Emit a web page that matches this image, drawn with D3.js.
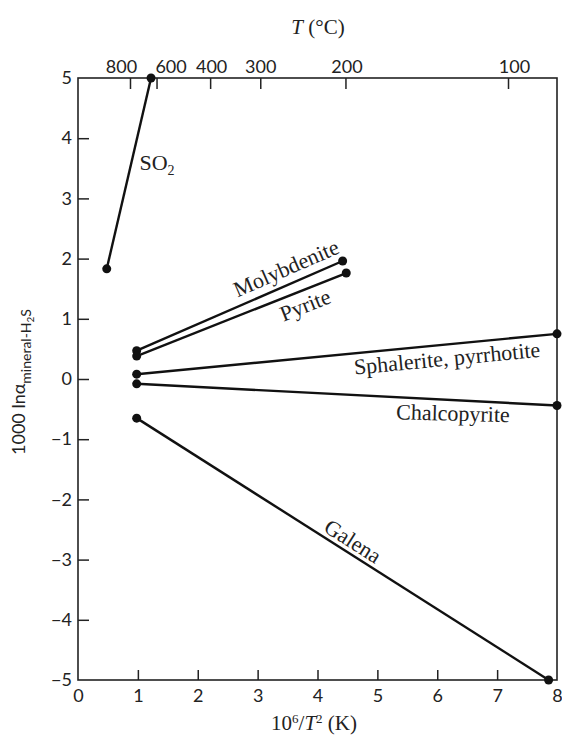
<!DOCTYPE html>
<html><head><meta charset="utf-8">
<script src="https://cdn.jsdelivr.net/npm/d3@7"></script>
<style>body{margin:0;background:#fff}svg text{fill:#222}</style>
</head><body>
<svg id="c" width="562" height="740"></svg>
<script>
// Data
const xTicks = [0,1,2,3,4,5,6,7,8];
const yTicks = [-5,-4,-3,-2,-1,0,1,2,3,4,5];
const topTicksC = [800,600,400,300,200,100];
const seriesNames = ["SO₂","Molybdenite","Pyrite","Sphalerite, pyrrhotite","Chalcopyrite","Galena"];
const seriesX0 = [0.48, 0.98, 0.98, 0.98, 0.98, 0.98];
const seriesY0 = [1.83, 0.47, 0.38, 0.08, -0.08, -0.65];
const seriesX1 = [1.22, 4.42, 4.48, 8.0, 8.0, 7.86];
const seriesY1 = [5.0, 1.96, 1.76, 0.75, -0.44, -5.0];

const svg = d3.select("#c");
const L = 78, R = 557, T = 78, B = 680;
const x = d3.scaleLinear().domain([0,8]).range([L,R]);
const y = d3.scaleLinear().domain([-5,5]).range([B,T]);
const toX = c => 1e6/Math.pow(c+273.15,2);

const tickFont = "Lato, 'Open Sans', sans-serif";
const serif = "'Liberation Serif', 'DejaVu Serif', serif";

// frame
svg.append("rect").attr("x",L).attr("y",T).attr("width",R-L).attr("height",B-T)
  .attr("fill","none").attr("stroke","#222").attr("stroke-width",1.6);

// bottom axis
const bx = svg.append("g").attr("transform",`translate(0,${B})`)
  .call(d3.axisBottom(x).tickValues(xTicks).tickSize(-10).tickPadding(18).tickFormat(d3.format("d")));
bx.select(".domain").remove();
bx.selectAll(".tick line").attr("stroke","#222").attr("stroke-width",1.5)
  .attr("display",d=> (d===0||d===8)?"none":null);
bx.selectAll(".tick text").attr("font-family",tickFont).attr("font-size",18).attr("fill","#222").attr("dy","0.2em");

// left axis
const ly = svg.append("g").attr("transform",`translate(${L},0)`)
  .call(d3.axisLeft(y).tickValues(yTicks).tickSize(-11).tickPadding(6).tickFormat(d=> d<0 ? "\u2212"+Math.abs(d) : d));
ly.select(".domain").remove();
ly.selectAll(".tick line").attr("stroke","#222").attr("stroke-width",1.5)
  .attr("display",d=> (d===5||d===-5)?"none":null);
ly.selectAll(".tick text").attr("font-family",tickFont).attr("font-size",18).attr("fill","#222");

// top axis (temperature)
const topLabelShift = [-9, 14, 1, 0, 1, 6];
const tx = svg.append("g").attr("transform",`translate(0,${T})`)
  .call(d3.axisTop(x).tickValues(topTicksC.map(toX)).tickSize(-11).tickPadding(5)
    .tickFormat((d,i)=>topTicksC[i]));
tx.select(".domain").remove();
tx.selectAll(".tick line").attr("stroke","#222").attr("stroke-width",1.5);
tx.selectAll(".tick text").attr("font-family",tickFont).attr("font-size",18).attr("fill","#222")
  .attr("dx",(d,i)=>topLabelShift[i]);

// axis titles
svg.append("text").attr("x",318).attr("y",34).attr("text-anchor","middle")
  .attr("font-family",serif).attr("font-size",21)
  .html('<tspan font-style="italic">T</tspan> (°C)');
svg.append("text").attr("x",314).attr("y",730).attr("text-anchor","middle")
  .attr("font-family",serif).attr("font-size",21)
  .html('10<tspan dy="-7" font-size="13">6</tspan><tspan dy="7">/</tspan><tspan font-style="italic">T</tspan><tspan dy="-7" font-size="13">2</tspan><tspan dy="7"> (K)</tspan>');
svg.append("text").attr("transform","translate(25,382) rotate(-90)").attr("text-anchor","middle")
  .attr("font-family","Lato, sans-serif").attr("font-size",18)
  .html('1000 lnα<tspan dy="6" font-size="14">mineral-H</tspan><tspan dy="3" font-size="10">2</tspan><tspan dy="-3" font-size="14">S</tspan>');

// lines & points
const idx = d3.range(seriesNames.length);
svg.append("g").selectAll("line").data(idx).join("line")
  .attr("x1",i=>x(seriesX0[i])).attr("y1",i=>y(seriesY0[i]))
  .attr("x2",i=>x(seriesX1[i])).attr("y2",i=>y(seriesY1[i]))
  .attr("stroke","#111").attr("stroke-width",2.4);
const pts = idx.flatMap(i=>[[seriesX0[i],seriesY0[i]],[seriesX1[i],seriesY1[i]]]);
svg.append("g").selectAll("circle").data(pts).join("circle")
  .attr("cx",d=>x(d[0])).attr("cy",d=>y(d[1])).attr("r",4.5).attr("fill","#111");

// labels (centre positions)
function angle(i){
  return Math.atan2(y(seriesY1[i])-y(seriesY0[i]), x(seriesX1[i])-x(seriesX0[i]))*180/Math.PI;
}
const lab = [
  {i:0, px:157, py:162, rot:0, html:'SO<tspan dy="5" font-size="14">2</tspan>'},
  {i:1, px:286, py:268, rot:angle(1)},
  {i:2, px:305, py:305, rot:angle(2)},
  {i:3, px:447, py:358, rot:angle(3)},
  {i:4, px:453, py:413, rot:1.5},
  {i:5, px:353, py:541, rot:angle(5)}
];
lab.forEach(l=>{
  const t = svg.append("text").attr("transform",`translate(${l.px},${l.py}) rotate(${l.rot})`)
    .attr("text-anchor","middle").attr("dy","0.35em").attr("font-family",serif).attr("font-size",22);
  if(l.html) t.html(l.html); else t.text(seriesNames[l.i]);
});
</script>
</body></html>
